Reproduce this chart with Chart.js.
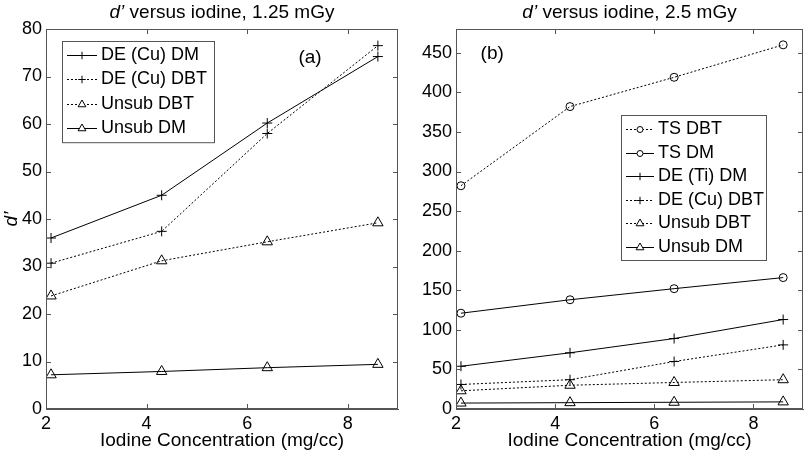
<!DOCTYPE html>
<html lang="en">
<head>
    <meta charset="UTF-8">
    <title>d' versus iodine</title>
    <script src="https://cdn.jsdelivr.net/npm/chart.js"></script>
    <style>
        body { margin: 0; background: #fff; }
        .wrap { position: relative; width: 810px; height: 452px; }
        canvas { position: absolute; top: 0; }
        #chart-a { left: 0; }
        #chart-b { left: 405px; }
    </style>
</head>
<body>
    <div class="wrap">
        <canvas id="chart-a" width="405" height="452"></canvas>
        <canvas id="chart-b" width="405" height="452"></canvas>
    </div>

    <script>
        // iodine concentration (mg/cc)
        const iodine = [2.1, 4.3, 6.4, 8.6];
        const xTicks = [2, 4, 6, 8];

        // panel (a): 1.25 mGy
        const a_deCuDM = [36.0, 45.0, 60.2, 74.2];
        const a_deCuDBT = [30.7, 37.4, 58.0, 76.5];
        const a_unsubDBT = [23.8, 31.2, 35.2, 39.2];
        const a_unsubDM = [7.2, 7.9, 8.7, 9.4];
        const aTicks = [0, 10, 20, 30, 40, 50, 60, 70, 80];

        // panel (b): 2.5 mGy
        const b_tsDBT = [282, 382, 419, 460];
        const b_tsDM = [121, 138, 152, 166];
        const b_deTiDM = [54, 71, 89, 113];
        const b_deCuDBT = [31, 37, 60, 81];
        const b_unsubDBT = [23, 30, 33.5, 37];
        const b_unsubDM = [7.5, 8, 8.5, 9];
        const bTicks = [0, 50, 100, 150, 200, 250, 300, 350, 400, 450];

        const FONT = '"Liberation Sans", Arial, Helvetica, sans-serif';
        const FRAME = '#555';
        const RADIUS = { circle: 4, cross: 5, triangle: 6 };

        function series(label, values, marker, dotted) {
            return {
                label: label,
                data: values.map((v, i) => ({ x: iodine[i], y: v })),
                borderColor: '#000',
                borderWidth: 1,
                borderDash: dotted ? [2, 2] : [],
                pointStyle: marker,
                pointRadius: RADIUS[marker],
                pointBorderColor: '#000',
                pointBackgroundColor: 'rgba(255,255,255,0)',
                pointBorderWidth: 1,
                tension: 0
            };
        }

        // frame with inward ticks on all four sides, like the original figure
        const framePlugin = {
            id: 'frame',
            afterDatasetsDraw(chart) {
                const ctx = chart.ctx;
                const a = chart.chartArea;
                const xs = chart.scales.x, ys = chart.scales.y;
                const len = 5;
                ctx.save();
                ctx.strokeStyle = FRAME;
                ctx.lineWidth = 1;
                ctx.strokeRect(a.left + 0.5, a.top + 0.5, a.right - a.left - 1, a.bottom - a.top - 1);
                ctx.beginPath();
                xs.ticks.forEach(t => {
                    const px = Math.round(xs.getPixelForValue(t.value)) + 0.5;
                    ctx.moveTo(px, a.bottom); ctx.lineTo(px, a.bottom - len);
                    ctx.moveTo(px, a.top); ctx.lineTo(px, a.top + len);
                });
                ys.ticks.forEach(t => {
                    const py = Math.round(ys.getPixelForValue(t.value)) + 0.5;
                    ctx.moveTo(a.left, py); ctx.lineTo(a.left + len, py);
                    ctx.moveTo(a.right, py); ctx.lineTo(a.right - len, py);
                });
                ctx.stroke();
                ctx.restore();
            },
            afterDraw(chart, args, opts) {
                const ctx = chart.ctx;
                const a = chart.chartArea;
                ctx.save();
                ctx.fillStyle = '#000';
                ctx.textBaseline = 'middle';

                // title with italic d'
                const p1 = 'd’', p2 = ' versus iodine, ' + opts.dose;
                ctx.font = 'italic 19px ' + FONT;
                const w1 = ctx.measureText(p1).width;
                ctx.font = '19px ' + FONT;
                const w2 = ctx.measureText(p2).width;
                const cx = (a.left + a.right) / 2 - (w1 + w2) / 2;
                ctx.font = 'italic 19px ' + FONT;
                ctx.textAlign = 'left';
                ctx.fillText(p1, cx, 13);
                ctx.font = '19px ' + FONT;
                ctx.fillText(p2, cx + w1, 13);

                // panel tag
                ctx.font = '19px ' + FONT;
                ctx.textAlign = 'center';
                ctx.fillText(opts.tag, chart.scales.x.getPixelForValue(opts.tagAt[0]),
                    chart.scales.y.getPixelForValue(opts.tagAt[1]));

                // legend box
                const L = opts.legend;
                const sets = chart.data.datasets;
                const bx = a.left + L.dx, by = a.top + L.dy;
                const bh = sets.length * L.rowH + 4;
                ctx.fillStyle = '#fff';
                ctx.fillRect(bx, by, L.w, bh);
                ctx.strokeStyle = FRAME;
                ctx.lineWidth = 1;
                ctx.setLineDash([]);
                ctx.strokeRect(bx + 0.5, by + 0.5, L.w, bh);
                sets.forEach((ds, i) => {
                    const y = Math.round(by + 14 + i * L.rowH) + 0.5;
                    const x0 = bx + 5, x1 = x0 + L.lineW;
                    ctx.strokeStyle = '#000';
                    ctx.setLineDash(ds.borderDash);
                    ctx.beginPath();
                    ctx.moveTo(x0, y); ctx.lineTo(x1, y);
                    ctx.stroke();
                    ctx.setLineDash([]);
                    ctx.fillStyle = '#fff';
                    Chart.helpers.drawPoint(ctx, {
                        pointStyle: ds.pointStyle,
                        radius: ds.pointRadius * 0.75,
                        rotation: 0,
                        borderWidth: 1
                    }, (x0 + x1) / 2, y);
                    ctx.fillStyle = '#000';
                    ctx.font = '18px ' + FONT;
                    ctx.textAlign = 'left';
                    ctx.fillText(ds.label, x1 + 4, y);
                });
                ctx.restore();
            }
        };

        function makeChart(id, datasets, yMax, yTicks, yWidth, padRight, showYTitle, extra) {
            return new Chart(document.getElementById(id), {
                type: 'line',
                data: { datasets: datasets },
                options: {
                    responsive: false,
                    animation: false,
                    layout: { padding: { top: 29, right: padRight, bottom: 0, left: 0 } },
                    plugins: {
                        legend: { display: false },
                        tooltip: { enabled: false },
                        frame: extra
                    },
                    scales: {
                        x: {
                            type: 'linear',
                            min: 2,
                            max: 9,
                            afterBuildTicks: s => { s.ticks = xTicks.map(v => ({ value: v })); },
                            afterFit: s => { s.height = 43; },
                            grid: { drawOnChartArea: false, drawTicks: false },
                            border: { color: FRAME },
                            ticks: { color: '#000', font: { family: FONT, size: 18 }, padding: 4 },
                            title: {
                                display: true,
                                text: 'Iodine Concentration (mg/cc)',
                                color: '#000',
                                font: { family: FONT, size: 19 },
                                padding: { top: 0, bottom: 0 }
                            }
                        },
                        y: {
                            type: 'linear',
                            min: 0,
                            max: yMax,
                            afterBuildTicks: s => { s.ticks = yTicks.map(v => ({ value: v })); },
                            afterFit: s => { s.width = yWidth; },
                            grid: { drawOnChartArea: false, drawTicks: false },
                            border: { color: FRAME },
                            ticks: { color: '#000', font: { family: FONT, size: 18 }, padding: 4 },
                            title: {
                                display: showYTitle,
                                text: 'd’',
                                color: '#000',
                                font: { family: FONT, size: 19, style: 'italic' },
                                padding: 0
                            }
                        }
                    }
                },
                plugins: [framePlugin]
            });
        }

        makeChart('chart-a', [
            series('DE (Cu) DM', a_deCuDM, 'cross', false),
            series('DE (Cu) DBT', a_deCuDBT, 'cross', true),
            series('Unsub DBT', a_unsubDBT, 'triangle', true),
            series('Unsub DM', a_unsubDM, 'triangle', false)
        ], 80, aTicks, 46, 6, true, {
            dose: '1.25 mGy',
            tag: '(a)',
            tagAt: [7.25, 74],
            legend: { dx: 16, dy: 12, w: 152, rowH: 24.3, lineW: 30 }
        });

        makeChart('chart-b', [
            series('TS DBT', b_tsDBT, 'circle', true),
            series('TS DM', b_tsDM, 'circle', false),
            series('DE (Ti) DM', b_deTiDM, 'cross', false),
            series('DE (Cu) DBT', b_deCuDBT, 'cross', true),
            series('Unsub DBT', b_unsubDBT, 'triangle', true),
            series('Unsub DM', b_unsubDM, 'triangle', false)
        ], 480, bTicks, 51, 1, false, {
            dose: '2.5 mGy',
            tag: '(b)',
            tagAt: [2.73, 449],
            legend: { dx: 165, dy: 86, w: 145, rowH: 23.5, lineW: 28 }
        });
    </script>
</body>
</html>
